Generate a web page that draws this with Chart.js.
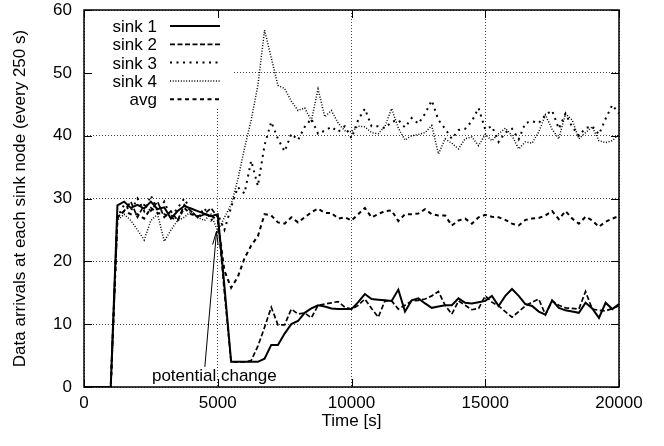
<!DOCTYPE html>
<html>
<head>
<meta charset="utf-8">
<script src="https://cdn.jsdelivr.net/npm/chart.js@4"></script>
<style>
  body { margin: 0; background: #fff; }
  #chart { display: block; }
</style>
</head>
<body>
<canvas id="chart" width="664" height="446"></canvas>
<script>
// sample times, every 250 s
const times = [
    0, 250, 500, 750, 1000, 1250, 1500, 1750, 2000, 2250,
    2500, 2750, 3000, 3250, 3500, 3750, 4000, 4250, 4500, 4750,
    5000, 5250, 5500, 5750, 6000, 6250, 6500, 6750, 7000, 7250,
    7500, 7750, 8000, 8250, 8500, 8750, 9000, 9250, 9500, 9750,
    10000, 10250, 10500, 10750, 11000, 11250, 11500, 11750, 12000, 12250,
    12500, 12750, 13000, 13250, 13500, 13750, 14000, 14250, 14500, 14750,
    15000, 15250, 15500, 15750, 16000, 16250, 16500, 16750, 17000, 17250,
    17500, 17750, 18000, 18250, 18500, 18750, 19000, 19250, 19500, 19750,
    20000
];

const sink1 = [
    0, 0, 0, 0, 0, 28.9, 29.5, 28.5, 29, 28.4,
    29.5, 28.3, 28.6, 26.8, 28, 28.8, 28.4, 28, 27.6, 27.2,
    27.5, 16, 4, 4, 4, 4, 4, 4.5, 6.7, 6.7,
    8.5, 10, 10.5, 11.8, 12.5, 13, 12.8, 12.5, 12.4, 12.4,
    12.4, 13.5, 14.8, 14, 13.9, 13.8, 13.7, 15.5, 12, 13.8,
    14.1, 13.3, 12.6, 12.8, 13, 13, 14.1, 13.4, 13.3, 13.5,
    13.7, 14.5, 12.9, 14.5, 15.6, 14.5, 13.2, 12.9, 12, 11.5,
    13.8, 12.6, 12.2, 12, 11.8, 13.4, 12.5, 11, 13.4, 12.4,
    13.2
];
const sink2 = [
    0, 0, 0, 0, 0, 27, 28, 29.5, 27, 29,
    28, 29.5, 27, 28, 26.5, 29, 28, 27, 27.5, 28.5,
    27, 15, 4, 4, 4, 4.2, 6.5, 9.5, 12.7, 9.9,
    9.9, 12.4, 11.6, 11.8, 11, 13, 13.2, 13.4, 13.6, 12.7,
    12.4, 13, 14, 12.5, 11.1, 13.7, 13.7, 12.4, 13, 13.7,
    13.8, 14, 14.5, 15.2, 13, 11.6, 13.7, 13, 12.3, 12.5,
    14.5, 13.5, 12.9, 12, 11.1, 12, 12.9, 13.5, 14, 11.5,
    13.7, 13, 12.6, 12.5, 12.4, 15.2, 12.4, 12.2, 12.1, 12.5,
    12.9
];
const sink3 = [
    0, 0, 0, 0, 0, 27, 29, 28, 30, 28,
    30.5, 28, 29.5, 27, 28.5, 30, 28, 27, 28.5, 26.5,
    27.5, 25, 28.6, 31.8, 30.8, 36, 32, 38.5, 42.2, 39.5,
    37.5, 40.3, 39.3, 41.4, 42.7, 40.3, 40.8, 41.4, 40.6, 41.5,
    39.6, 42.5, 44.3, 41.5, 41.5, 41.2, 42.2, 42.5, 41.3, 42.8,
    41.9, 43.5, 45.6, 42.5, 41.1, 39.5, 40.9, 41.1, 42.3, 44.4,
    41, 41.5, 39, 40.5, 41.1, 39.4, 42, 42.3, 42, 43.3,
    44, 41.1, 43.5, 41.4, 40, 41.2, 41.5, 40.2, 42.7, 44.9,
    43.5
];
const sink4 = [
    0, 0, 0, 0, 0, 26.5, 27.5, 26.5, 25, 23.4,
    26.5, 27.5, 23.2, 25, 26.5, 27, 28, 27, 26.5, 27.5,
    24.8, 27, 29, 33, 38, 42.5, 48, 56.8, 52.4, 48,
    47.5, 45.5, 44, 44.4, 42.4, 47.4, 43, 44, 42, 40.8,
    40.6, 41.5, 41.4, 40.5, 40.3, 41.5, 44.3, 41.2, 39.3, 40,
    40.2, 40.5, 41.6, 37.1, 39.5, 38.8, 37.9, 39.5, 39.8, 38.4,
    40.2, 39.2, 40.3, 41.2, 40, 37.9, 39, 38.8, 40.6, 43.3,
    41, 39.5, 43.5, 42.5, 39.5, 40.5, 41.4, 39.2, 38.9, 39.2,
    40.2
];
const avg = [
    0, 0, 0, 0, 0, 27, 28, 27.5, 27.5, 26.8,
    28.5, 27.7, 27.5, 27, 26.5, 28.5, 27.5, 27.2, 27.5, 27.3,
    26.5, 18.5, 15.8, 17.5, 20.5, 22.5, 24, 27.5, 27.3, 26.2,
    26, 27, 26.2, 27, 27.8, 28.4, 27.7, 27.7, 26.8, 27,
    26.5, 27.5, 28.5, 27, 27.5, 28, 28.1, 26.4, 27.5, 27.5,
    27.6, 28.3, 27.5, 27.3, 27.3, 25.7, 26.5, 26.8, 26, 27,
    27.4, 27.1, 27, 26.6, 26, 25.7, 26.6, 26.8, 26.9, 27.3,
    28, 26.7, 28, 26.8, 26, 27.1, 26.5, 25.5, 26.3, 26.8,
    27.2
];

const seriesNames = ['sink 1', 'sink 2', 'sink 3', 'sink 4', 'avg'];
const seriesValues = [sink1, sink2, sink3, sink4, avg];

const FONT = "'Liberation Sans', Arial, Helvetica, sans-serif";
const lineStyles = [
    { width: 2,   dash: [] },
    { width: 1.7, dash: [5, 2.5] },
    { width: 2,   dash: [2, 4.5] },
    { width: 1.5, dash: [1, 1.7] },
    { width: 2,   dash: [4, 3.5] }
];

const datasets = seriesNames.map((name, k) => ({
    label: name,
    data: times.map((t, i) => ({ x: t, y: seriesValues[k][i] })),
    borderColor: '#000',
    borderWidth: lineStyles[k].width,
    borderDash: lineStyles[k].dash,
    pointRadius: 0,
    tension: 0,
    fill: false
}));

/*** key, frame, inner ticks and the annotation, gnuplot style ***/
const gnuplotFrame = {
    id: 'gnuplotFrame',
    afterDraw(chart) {
        const { ctx, chartArea: a, scales: { x, y } } = chart;
        ctx.save();

        // key box (hides the grid behind it)
        ctx.fillStyle = '#fff';
        ctx.fillRect(a.left + 2, a.top + 2, 146, 96);
        ctx.font = '17px ' + FONT;
        ctx.fillStyle = '#000';
        ctx.textAlign = 'right';
        ctx.textBaseline = 'middle';
        seriesNames.forEach((name, k) => {
            const rowY = a.top + 16 + k * 18.3;
            ctx.fillText(name, a.left + 73, rowY + 1.5);
            ctx.beginPath();
            ctx.lineWidth = lineStyles[k].width;
            ctx.setLineDash(lineStyles[k].dash);
            ctx.moveTo(a.left + 86, rowY);
            ctx.lineTo(a.left + 136, rowY);
            ctx.stroke();
        });
        ctx.setLineDash([]);

        // frame
        ctx.strokeStyle = '#000';
        ctx.lineWidth = 1.5;
        ctx.strokeRect(a.left, a.top, a.right - a.left, a.bottom - a.top);

        // inward ticks on all four sides
        ctx.lineWidth = 1;
        ctx.beginPath();
        x.ticks.forEach(t => {
            const px = Math.round(x.getPixelForValue(t.value)) + 0.5;
            ctx.moveTo(px, a.bottom); ctx.lineTo(px, a.bottom - 8);
            ctx.moveTo(px, a.top); ctx.lineTo(px, a.top + 8);
        });
        y.ticks.forEach(t => {
            const py = Math.round(y.getPixelForValue(t.value)) + 0.5;
            ctx.moveTo(a.left, py); ctx.lineTo(a.left + 8, py);
            ctx.moveTo(a.right, py); ctx.lineTo(a.right - 8, py);
        });
        ctx.stroke();

        // "potential change" arrow
        const x0 = x.getPixelForValue(4518), y0 = y.getPixelForValue(3.2);
        const x1 = x.getPixelForValue(4955), y1 = y.getPixelForValue(24.8);
        ctx.beginPath();
        ctx.moveTo(x0, y0);
        ctx.lineTo(x1, y1);
        const ang = Math.atan2(y0 - y1, x0 - x1);
        [-0.2, 0.2].forEach(d => {
            ctx.moveTo(x1, y1);
            ctx.lineTo(x1 + 14 * Math.cos(ang + d), y1 + 14 * Math.sin(ang + d));
        });
        ctx.stroke();

        ctx.textAlign = 'left';
        ctx.textBaseline = 'alphabetic';
        ctx.fillText('potential change', x.getPixelForValue(2540), y.getPixelForValue(0.9));

        ctx.restore();
    }
};

new Chart(document.getElementById('chart').getContext('2d'), {
    type: 'line',
    data: { datasets: datasets },
    options: {
        responsive: false,
        animation: false,
        layout: { padding: { top: 10, right: 45, left: 0, bottom: 0 } },
        plugins: { legend: { display: false }, tooltip: { enabled: false } },
        scales: {
            x: {
                type: 'linear',
                min: 0, max: 20000,
                afterFit: s => { s.height = 59; },
                ticks: { stepSize: 5000, color: '#000', padding: 6, maxRotation: 0,
                         callback: v => String(v),
                         font: { family: FONT, size: 17 } },
                grid: { color: '#444', lineWidth: 1, drawTicks: false },
                border: { display: false, dash: [1, 2] },
                title: { display: true, text: 'Time [s]', color: '#000', padding: { top: 0, bottom: 14 },
                         font: { family: FONT, size: 17 } }
            },
            y: {
                min: 0, max: 60,
                afterFit: s => { s.width = 84; s.paddingTop = 0; s.paddingBottom = 0; },
                ticks: { stepSize: 10, color: '#000', padding: 12,
                         font: { family: FONT, size: 17 } },
                grid: { color: '#444', lineWidth: 1, drawTicks: false },
                border: { display: false, dash: [1, 2] },
                title: { display: true, text: 'Data arrivals at each sink node (every 250 s)', color: '#000',
                         padding: { top: 10, bottom: 0 }, font: { family: FONT, size: 17 } }
            }
        }
    },
    plugins: [gnuplotFrame]
});
</script>
</body>
</html>
